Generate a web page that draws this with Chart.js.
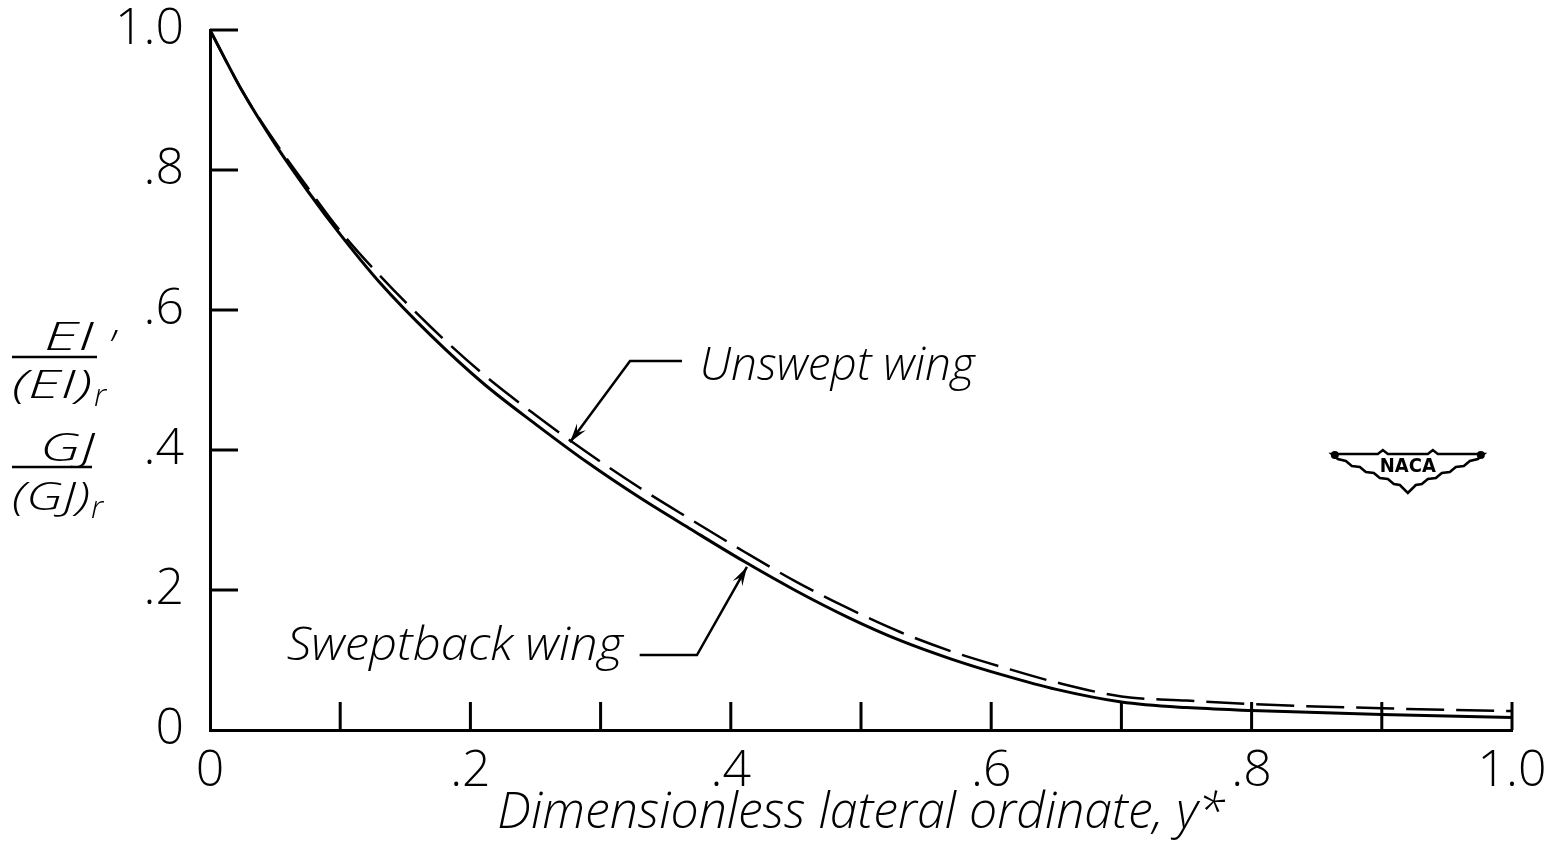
<!DOCTYPE html>
<html lang="en">
<head>
<meta charset="UTF-8">
<title>Stiffness distribution</title>
<script src="https://cdn.jsdelivr.net/npm/chart.js@4.4.0/dist/chart.umd.min.js"></script>
<style>
  html, body { margin: 0; padding: 0; background: #fff; }
  #wrap { width: 1549px; height: 846px; position: relative; }
</style>
</head>
<body>
<div id="wrap"><canvas id="chart"></canvas></div>
<script>
// stations along the span (y*) and the two stiffness curves
const yStar = [0, 0.025, 0.05, 0.075, 0.1, 0.13, 0.17, 0.21, 0.25, 0.29, 0.33, 0.37,
               0.41, 0.45, 0.49, 0.53, 0.57, 0.61, 0.65, 0.7, 0.75, 0.8, 0.9, 1.0];
const sweptback = [1.0, 0.912, 0.837, 0.770, 0.708, 0.640, 0.563, 0.495, 0.437, 0.382, 0.332, 0.286,
                   0.241, 0.199, 0.161, 0.128, 0.101, 0.078, 0.058, 0.040, 0.032, 0.028, 0.022, 0.018];
const unswept = [1.0, 0.912, 0.840, 0.775, 0.713, 0.650, 0.575, 0.508, 0.450, 0.396, 0.346, 0.300,
                 0.255, 0.212, 0.174, 0.140, 0.112, 0.089, 0.068, 0.048, 0.042, 0.037, 0.031, 0.027];

// tick marks (drawn inside the frame) and labelled ticks
const xMarks = [0.1, 0.2, 0.3, 0.4, 0.5, 0.6, 0.7, 0.8, 0.9, 1.0];
const yMarks = [0.2, 0.4, 0.6, 0.8, 1.0];

const FONT = "'Open Sans', 'DejaVu Sans', sans-serif";

function tickText(v) {
  if (Math.abs(v) < 1e-9) return '0';
  if (Math.abs(v - 1) < 1e-9) return '1.0';
  return '.' + Math.round(v * 10);
}

function toPt(chart, x, y) {
  return [chart.scales.x.getPixelForValue(x), chart.scales.y.getPixelForValue(y)];
}

// draw text stretched horizontally to a given width (lettering in the original is wide)
function fitText(ctx, text, x, y, width) {
  const w = ctx.measureText(text).width;
  ctx.save();
  ctx.translate(x, y);
  ctx.scale(width / w, 1);
  ctx.textAlign = 'left';
  ctx.fillText(text, 0, 0);
  ctx.restore();
}

function arrowHead(ctx, fx, fy, tx, ty) {
  const a = Math.atan2(ty - fy, tx - fx);
  const len = 20, w = 0.28;
  ctx.beginPath();
  ctx.moveTo(tx, ty);
  ctx.lineTo(tx - len * Math.cos(a - w), ty - len * Math.sin(a - w));
  ctx.lineTo(tx - len * 0.6 * Math.cos(a), ty - len * 0.6 * Math.sin(a));
  ctx.lineTo(tx - len * Math.cos(a + w), ty - len * Math.sin(a + w));
  ctx.closePath();
  ctx.fill();
}

const decor = {
  id: 'decor',
  afterDraw(chart) {
    const ctx = chart.ctx;
    const xs = chart.scales.x, ys = chart.scales.y;
    const x0 = xs.getPixelForValue(0), y0 = ys.getPixelForValue(0);
    ctx.save();
    ctx.strokeStyle = '#000';
    ctx.fillStyle = '#000';
    ctx.lineWidth = 3;
    ctx.lineCap = 'butt';

    // inward tick marks
    ctx.beginPath();
    xMarks.forEach(v => {
      const px = xs.getPixelForValue(v);
      ctx.moveTo(px, y0);
      ctx.lineTo(px, y0 - 28);
    });
    yMarks.forEach(v => {
      const py = ys.getPixelForValue(v);
      ctx.moveTo(x0, py);
      ctx.lineTo(x0 + 28, py);
    });
    ctx.stroke();

    // leader for unswept wing
    ctx.lineWidth = 2.5;
    let tip = toPt(chart, 0.2765, 0.411);
    let bend = toPt(chart, 0.3226, 0.527);
    let end = toPt(chart, 0.3625, 0.527);
    ctx.beginPath();
    ctx.moveTo(end[0], end[1]);
    ctx.lineTo(bend[0], bend[1]);
    ctx.lineTo(tip[0], tip[1]);
    ctx.stroke();
    arrowHead(ctx, bend[0], bend[1], tip[0], tip[1]);

    // leader for sweptback wing
    tip = toPt(chart, 0.4124, 0.233);
    bend = toPt(chart, 0.374, 0.107);
    end = toPt(chart, 0.330, 0.107);
    ctx.beginPath();
    ctx.moveTo(end[0], end[1]);
    ctx.lineTo(bend[0], bend[1]);
    ctx.lineTo(tip[0], tip[1]);
    ctx.stroke();
    arrowHead(ctx, bend[0], bend[1], tip[0], tip[1]);

    // curve labels
    ctx.font = "italic 300 46px " + FONT;
    ctx.textBaseline = 'alphabetic';
    let p = toPt(chart, 0.376, 0.50);
    fitText(ctx, 'Unswept wing', p[0], p[1], 275);
    p = toPt(chart, 0.059, 0.100);
    fitText(ctx, 'Sweptback wing', p[0], p[1], 336);

    // y-axis label: EI/(EI)r , GJ/(GJ)r
    ctx.font = "italic 300 38px " + FONT;
    fitText(ctx, 'EI', 44, 350, 50);
    fitText(ctx, '(EI)', 12, 398, 80);
    fitText(ctx, 'GJ', 40, 461, 55);
    fitText(ctx, '(GJ)', 12, 510, 78);
    ctx.font = "italic 300 32px " + FONT;
    ctx.fillText('r', 94, 406);
    ctx.fillText('r', 91, 518);
    ctx.font = "italic 300 44px " + FONT;
    ctx.fillText('\u2019', 108, 362);
    ctx.lineWidth = 2.5;
    ctx.beginPath();
    ctx.moveTo(12, 357); ctx.lineTo(97, 357);
    ctx.moveTo(12, 467); ctx.lineTo(92, 467);
    ctx.stroke();

    // NACA wing emblem
    const c = toPt(chart, 0.92, 0.38);
    const cx = c[0], cy = c[1];
    ctx.lineWidth = 2.5;
    ctx.beginPath();
    ctx.moveTo(cx - 76, cy - 10);
    ctx.lineTo(cx - 30, cy - 10);
    ctx.lineTo(cx - 25, cy - 14);
    ctx.lineTo(cx - 20, cy - 10);
    ctx.lineTo(cx + 20, cy - 10);
    ctx.lineTo(cx + 25, cy - 14);
    ctx.lineTo(cx + 30, cy - 10);
    ctx.lineTo(cx + 76, cy - 10);
    const lower = [[70, -5], [62, -3], [56, 2], [48, 3], [42, 8], [34, 9], [28, 14], [20, 15], [14, 20], [8, 21], [0, 29]];
    lower.forEach(q => ctx.lineTo(cx + q[0], cy + q[1]));
    lower.slice().reverse().forEach(q => ctx.lineTo(cx - q[0], cy + q[1]));
    ctx.closePath();
    ctx.stroke();
    ctx.beginPath();
    ctx.arc(cx - 73, cy - 9, 4, 0, Math.PI * 2);
    ctx.fill();
    ctx.beginPath();
    ctx.arc(cx + 73, cy - 9, 4, 0, Math.PI * 2);
    ctx.fill();
    ctx.font = "bold 20px 'DejaVu Sans Condensed', 'DejaVu Sans', sans-serif";
    ctx.textAlign = 'center';
    ctx.textBaseline = 'middle';
    ctx.fillText('NACA', cx, cy + 3);

    ctx.restore();
  }
};

new Chart(document.getElementById('chart'), {
  type: 'line',
  data: {
    datasets: [{
      label: 'Sweptback wing',
      data: yStar.map((x, i) => ({ x: x, y: sweptback[i] })),
      borderColor: '#000',
      borderWidth: 3,
      pointRadius: 0,
      cubicInterpolationMode: 'monotone',
      fill: false
    }, {
      label: 'Unswept wing',
      data: yStar.map((x, i) => ({ x: x, y: unswept[i] })),
      borderColor: '#000',
      borderWidth: 2.5,
      borderDash: [38, 12],
      pointRadius: 0,
      cubicInterpolationMode: 'monotone',
      fill: false
    }]
  },
  options: {
    responsive: true,
    maintainAspectRatio: false,
    animation: false,
    events: [],
    layout: { padding: { left: 0, right: 37, top: 30, bottom: 0 } },
    scales: {
      x: {
        type: 'linear',
        min: 0,
        max: 1,
        afterFit: s => { s.height = 116; s.paddingLeft = 0; s.paddingRight = 0; },
        grid: { display: false },
        border: { display: true, color: '#000', width: 3 },
        ticks: {
          stepSize: 0.2,
          padding: 4,
          color: '#000',
          maxRotation: 0,
          font: { family: FONT, size: 50, weight: 300 },
          callback: v => tickText(v)
        },
        title: {
          display: true,
          text: 'Dimensionless lateral ordinate, y*',
          color: '#000',
          font: { family: FONT, size: 50, style: 'italic', weight: 300 },
          padding: { top: 0, bottom: 2 }
        }
      },
      y: {
        type: 'linear',
        min: 0,
        max: 1,
        afterFit: s => { s.width = 210; s.paddingTop = 0; s.paddingBottom = 0; },
        grid: { display: false },
        border: { display: true, color: '#000', width: 3 },
        ticks: {
          stepSize: 0.2,
          padding: 18,
          color: '#000',
          font: { family: FONT, size: 50, weight: 300 },
          callback: v => tickText(v)
        }
      }
    },
    plugins: {
      legend: { display: false },
      tooltip: { enabled: false }
    }
  },
  plugins: [decor]
});
</script>
</body>
</html>
